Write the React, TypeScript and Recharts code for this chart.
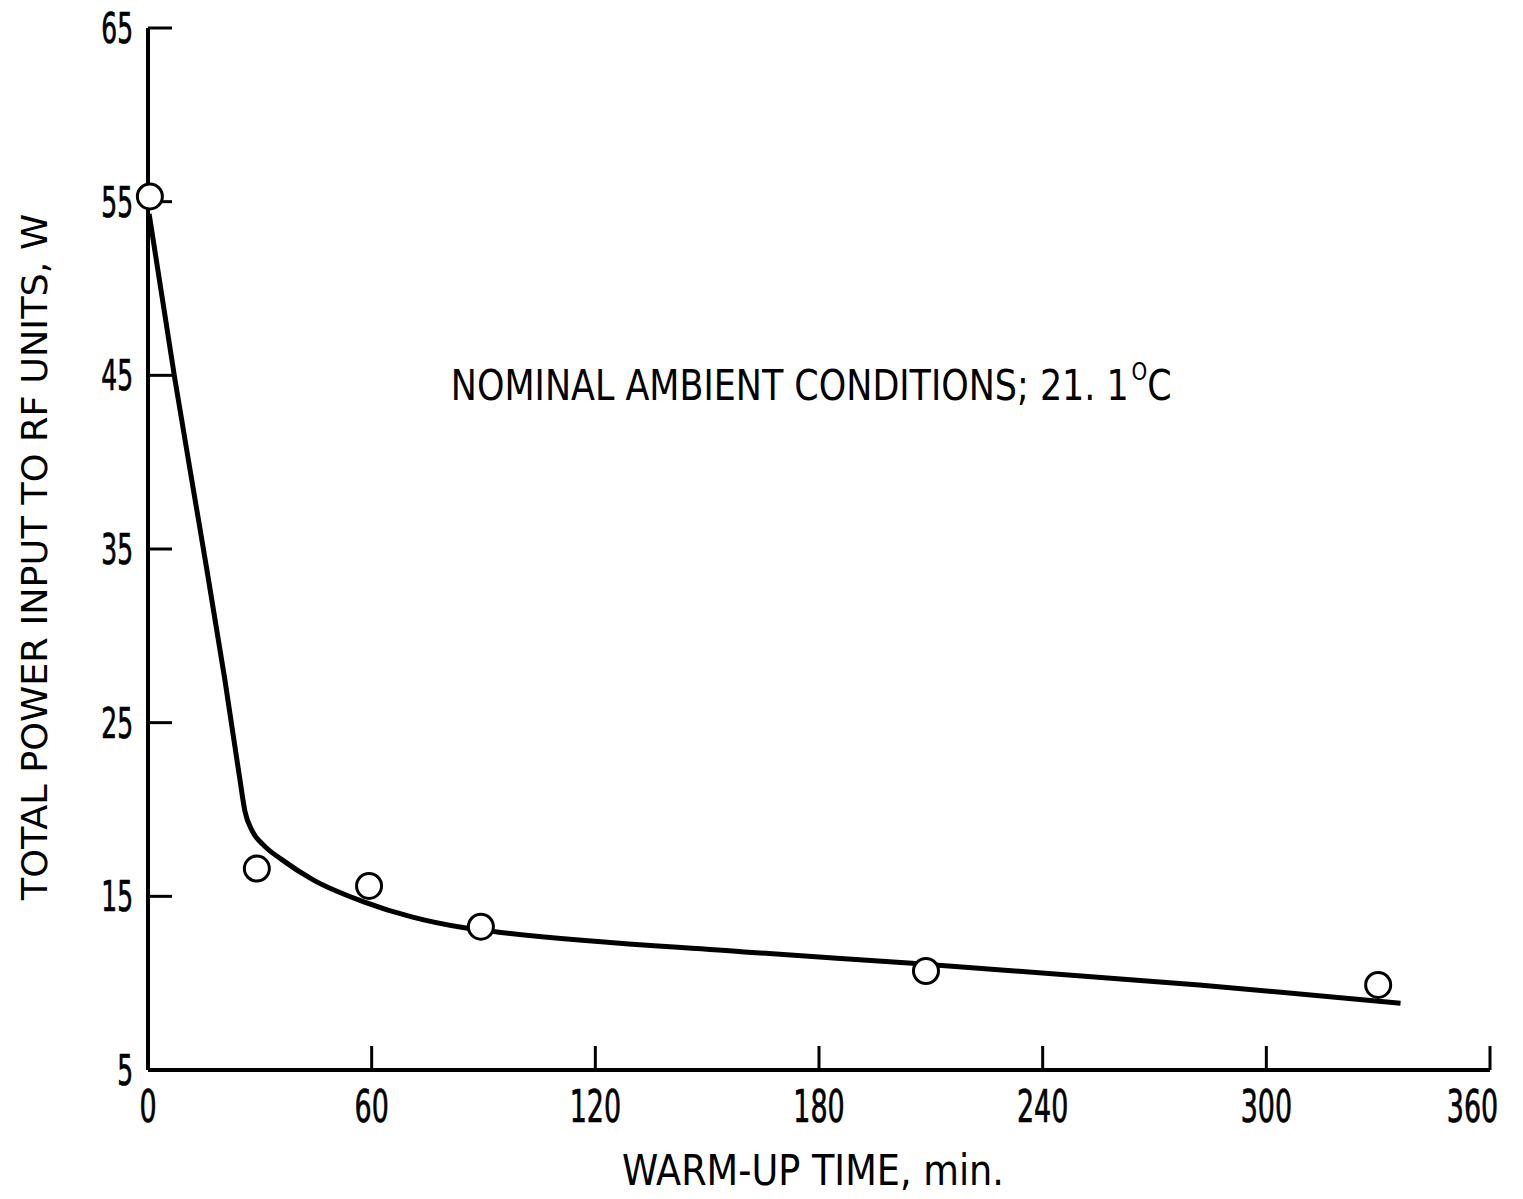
import { ComposedChart, Line, Scatter, XAxis, YAxis, ReferenceDot } from "recharts";

const FONT = '"DejaVu Sans Condensed", "Liberation Sans Narrow", sans-serif';

// axis ticks
const xTicks = [0, 60, 120, 180, 240, 300, 360];
const yTicks = [5, 15, 25, 35, 45, 55, 65];

// measured points (open circles)
const pointMinutes = [0.5, 29.2, 59.3, 89.3, 208.7, 330];
const pointWatts = [55.3, 16.6, 15.6, 13.25, 10.7, 9.9];

// faired curve through the data
const curveMinutes = [0.3, 7.2, 14, 20.6, 24.6, 26, 28, 31, 36, 44.3, 57.7, 71, 84.5, 93.6, 160, 205, 282, 336];
const curveWatts = [54.3, 44.8, 36.1, 27.5, 21.8, 19.9, 18.75, 17.95, 17.1, 15.95, 14.7, 13.8, 13.2, 12.95, 11.8, 11.15, 9.9, 8.85];

const noteText = "NOMINAL AMBIENT CONDITIONS; 21. 1";
const noteAt = { t: 81.5, w: 43.5 };

const points = pointMinutes.map((t, i) => ({ t, w: pointWatts[i] }));
const curve = curveMinutes.map((t, i) => ({ t, w: curveWatts[i] }));

// condensed lettering: scale the glyphs horizontally
const narrow = (x: number, y: number, sx: number, rot = 0) =>
  `translate(${x},${y})${rot ? ` rotate(${rot})` : ""} scale(${sx},1)`;

const YTick = ({ x, y, payload }: any) => (
  <text
    transform={narrow(x, y + 15, 0.66)}
    textAnchor="end"
    fontFamily={FONT}
    fontSize={42}
    fill="#000"
    stroke="#000"
    strokeWidth={0.7}
  >
    {payload.value}
  </text>
);

const XTick = ({ x, y, payload }: any) => {
  const halfW = String(payload.value).length * 8.5;
  return (
    <text
      transform={narrow(Math.min(x, 1498 - halfW), y + 36, 0.68)}
      textAnchor="middle"
      fontFamily={FONT}
      fontSize={44}
      fill="#000"
      stroke="#000"
      strokeWidth={0.7}
    >
      {payload.value}
    </text>
  );
};

const Circle = ({ cx, cy }: any) => (
  <circle cx={cx} cy={cy} r={12.5} fill="#fff" stroke="#000" strokeWidth={3} />
);

const NoteLabel = ({ viewBox }: any) => (
  <text transform={narrow(viewBox.x, viewBox.y, 0.925)} fontFamily={FONT} fontSize={42} fill="#000">
    <tspan>{noteText}</tspan>
    <tspan dx={3} dy={-20} fontSize={24}>O</tspan>
    <tspan dy={20}>C</tspan>
  </text>
);

export default function App() {
  return (
    <div style={{ position: "absolute", left: 0, top: 0, background: "#fff" }}>
      <ComposedChart width={1523} height={1199} margin={{ top: 28, right: 33, bottom: 0, left: 0 }}>
        <XAxis
          type="number"
          dataKey="t"
          domain={[0, 360]}
          ticks={xTicks}
          height={129}
          stroke="#000"
          strokeWidth={4}
          tickSize={-24}
          tickMargin={40}
          tick={<XTick />}
          tickLine={{ stroke: "#000", strokeWidth: 3 }}
          label={({ viewBox }: any) => (
            <text
              transform={narrow(viewBox.x + viewBox.width / 2 - 6, viewBox.y + 115, 0.97)}
              textAnchor="middle"
              fontFamily={FONT}
              fontSize={42}
              fill="#000"
            >
              WARM-UP TIME, min.
            </text>
          )}
        />
        <YAxis
          type="number"
          dataKey="w"
          domain={[5, 65]}
          ticks={yTicks}
          width={148}
          stroke="#000"
          strokeWidth={4}
          tickSize={-24}
          tickMargin={39}
          tick={<YTick />}
          tickLine={{ stroke: "#000", strokeWidth: 3 }}
          label={({ viewBox }: any) => (
            <text
              transform={narrow(viewBox.x + 47, viewBox.y + viewBox.height / 2 + 8, 1.13, -90)}
              textAnchor="middle"
              fontFamily={FONT}
              fontSize={36}
              fill="#000"
            >
              TOTAL POWER INPUT TO RF UNITS, W
            </text>
          )}
        />
        <Line
          data={curve}
          dataKey="w"
          type="monotone"
          stroke="#000"
          strokeWidth={5}
          dot={false}
          activeDot={false}
          isAnimationActive={false}
        />
        <Scatter data={points} dataKey="w" shape={<Circle />} isAnimationActive={false} />
        <ReferenceDot x={noteAt.t} y={noteAt.w} r={1} fill="none" stroke="none" label={<NoteLabel />} />
      </ComposedChart>
    </div>
  );
}
